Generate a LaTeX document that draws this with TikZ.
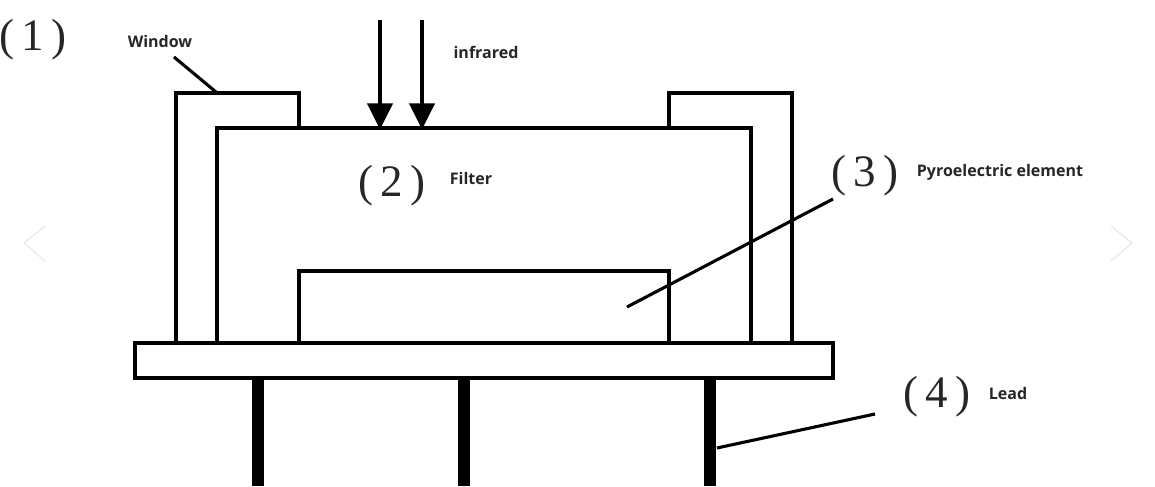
\documentclass[tikz,border=0pt]{standalone}
\usepackage{fontspec}
\setmainfont{Liberation Serif}
\setsansfont{Open Sans}
\usetikzlibrary{arrows.meta}

\tikzset{
  wall/.style={line width=2.2pt,line join=miter},
  leader/.style={line width=2.2pt},
  ray/.style={line width=2.2pt,-{Triangle[length=18.5pt,width=18pt]},shorten >=-1pt},
  leadwire/.style={line width=9.2pt},
  tag/.style={font=\sffamily\bfseries\fontsize{11.4}{13}\selectfont,inner sep=0pt,text=black!85},
  num/.style={font=\fontsize{32}{36}\selectfont,inner sep=0pt,text=black!85},
  chevron/.style={line width=1pt,black!8}
}

\begin{document}
\begin{tikzpicture}[x=0.025cm,y=-0.025cm]
\useasboundingbox (0,0) rectangle (1155,486);

\node[num] (N1) at (33,40)   {(\,1\,)};
\node[num] (N2) at (392,186) {(\,2\,)};
\node[num] (N3) at (865,176) {(\,3\,)};
\node[num] (N4) at (937,397) {(\,4\,)};

\node[tag] (W) at (160,41)  {Window};
\node[tag] (I) at (486,52)  {infrared};
\node[tag] (F) at (471,178) {Filter};
\node[tag] (P) at (1000,172) {Pyroelectric element};
\node[tag] (L) at (1008,393) {Lead};

\coordinate (W0) at (174,57);
\coordinate (W1) at (216,92);
\coordinate (R0) at (380,20);
\coordinate (R1) at (380,128);
\coordinate (S0) at (422,20);
\coordinate (S1) at (422,128);
\coordinate (P0) at (833,199);
\coordinate (P1) at (627,307);
\coordinate (L0) at (875,414);
\coordinate (L1) at (717,448);

% window, filter, element
\draw[wall] (176,343) -- (176,93) -- (299,93) -- (299,128);
\draw[wall] (669,128) -- (669,93) -- (792,93) -- (792,343);
\draw[wall] (217,343) -- (217,128) -- (751,128) -- (751,343);
\draw[wall] (299,343) -- (299,271) -- (669,271) -- (669,343);
\draw[wall] (135,343) rectangle (833,378);

% leads
\draw[leadwire] (258,378) -- (258,486);
\draw[leadwire] (464,378) -- (464,486);
\draw[leadwire] (710,378) -- (710,486);

\draw[ray] (R0) -- (R1);
\draw[ray] (S0) -- (S1);
\draw[leader] (W0) -- (W1);
\draw[leader] (P0) -- (P1);
\draw[leader] (L0) -- (L1);

\draw[chevron] (45,226) -- (24,243) -- (45,261);
\draw[chevron] (1111,226) -- (1132,243) -- (1111,261);
\end{tikzpicture}
\end{document}
